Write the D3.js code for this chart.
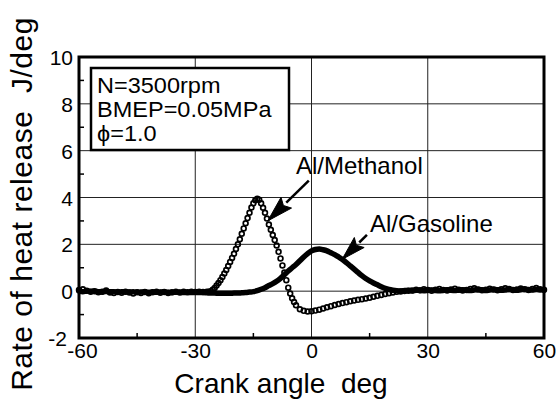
<!DOCTYPE html>
<html>
<head>
<meta charset="utf-8">
<script src="https://cdn.jsdelivr.net/npm/d3@7/dist/d3.min.js"></script>
<style>
  html, body { margin: 0; padding: 0; background: #fff; }
  svg { display: block; }
  text { font-family: "Liberation Sans", Arial, Helvetica, sans-serif; fill: #000; }
</style>
</head>
<body>
<svg id="chart" width="557" height="405"></svg>
<script>
// ---------------- data ----------------
const xTicks = [-60, -30, 0, 30, 60];
const xTickLabels = ["-60", "-30", "0", "30", "60"];
const xMinorTicks = [-45, -15, 15, 45];
const yTicks = [-2, 0, 2, 4, 6, 8, 10];
const yTickLabels = ["-2", "0", "2", "4", "6", "8", "10"];
const yMinorTicks = [-1, 1, 3, 5, 7, 9];
const xGrid = [-30, 0, 30];
const yGrid = [0, 2, 4, 6, 8];

const legendLines = ["N=3500rpm", "BMEP=0.05MPa", "\u03D5=1.0"];
const seriesNames = ["Al/Methanol", "Al/Gasoline"];

// Al/Methanol (open circles)
const angleMethanol = [].concat(
  d3.range(-60, -26.5, 1),
  d3.range(-26.5, -4.25, 0.5),
  d3.range(-4, 60.5, 1)
);
const hrrMethanol = [
  // -60 .. -27
  0.05,0.08,0.02,-0.03,0.0,-0.05,-0.02,0.03,-0.06,-0.08,
  -0.04,-0.07,-0.03,-0.06,-0.1,-0.05,-0.08,-0.04,-0.09,-0.05,
  -0.03,-0.07,-0.04,-0.08,-0.05,-0.03,-0.06,-0.02,-0.05,-0.03,
  -0.04,-0.02,-0.04,-0.02,
  // -26.5 .. -4.5 (0.5 deg)
  -0.02,0.0,0.06,0.14,0.24,0.35,0.47,0.6,0.75,0.9,
  1.07,1.25,1.42,1.6,1.8,2.0,2.22,2.45,2.68,2.9,
  3.12,3.35,3.57,3.75,3.88,3.95,3.9,3.75,3.56,3.35,
  3.1,2.85,2.62,2.4,2.18,1.95,1.68,1.4,1.1,0.8,
  0.47,0.15,-0.1,-0.3,-0.46,
  // -4 .. 60
  -0.6,-0.77,-0.84,-0.87,-0.86,-0.83,-0.79,-0.74,-0.69,-0.64,
  -0.59,-0.55,-0.51,-0.47,-0.43,-0.4,-0.37,-0.34,-0.31,-0.28,
  -0.24,-0.2,-0.16,-0.12,-0.09,-0.06,-0.03,-0.01,0.01,0.02,
  0.03,0.06,0.04,0.08,0.05,0.02,0.06,0.09,0.05,0.03,
  0.07,0.1,0.06,0.03,0.05,0.09,0.12,0.07,0.04,0.06,
  0.1,0.07,0.04,0.08,0.12,0.09,0.05,0.07,0.11,0.08,
  0.05,0.09,0.13,0.08,0.06
];

// Al/Gasoline (thick line)
const angleGasoline = d3.range(-60, 60.5, 1);
const hrrGasoline = [
  // -60 .. -28
  0.0,-0.02,0.01,-0.01,0,-0.02,-0.03,-0.01,-0.03,-0.02,
  -0.04,-0.03,-0.02,-0.04,-0.03,-0.05,-0.04,-0.03,-0.05,-0.04,
  -0.05,-0.04,-0.03,-0.05,-0.06,-0.04,-0.05,-0.06,-0.05,-0.06,
  -0.05,-0.06,-0.06,
  // -27 .. -15
  -0.07,-0.08,-0.08,-0.09,-0.09,-0.09,-0.09,-0.08,-0.08,-0.07,
  -0.06,-0.04,-0.02,
  // -14 .. 23
  0.02,0.08,0.15,0.24,0.32,0.42,0.55,0.7,0.86,1.0,
  1.14,1.3,1.46,1.6,1.72,1.78,1.8,1.77,1.72,1.64,
  1.56,1.46,1.35,1.22,1.08,0.94,0.8,0.66,0.54,0.44,
  0.35,0.27,0.19,0.12,0.07,0.04,0.02,0.01,
  // 24 .. 60
  0.02,0.03,0.02,0.04,0.03,0.02,0.04,0.05,0.03,0.02,
  0.04,0.06,0.04,0.03,0.05,0.06,0.04,0.03,0.05,0.07,
  0.05,0.03,0.05,0.07,0.06,0.04,0.05,0.07,0.06,0.04,
  0.06,0.08,0.06,0.05,0.07,0.06,0.05
];

// annotation anchors (data coordinates): [tail, tip]
const arrowMethanol = [[-0.7, 4.72], [-11.3, 3.0]];
const arrowGasoline = [[14.3, 2.4], [7.9, 1.36]];

// ---------------- drawing ----------------
const svg = d3.select("#chart");
const L = 79, R = 544, T = 57, B = 338;
const x = d3.scaleLinear().domain([-60, 60]).range([L, R]);
const y = d3.scaleLinear().domain([-2, 10]).range([B, T]);
const FONT = "'Liberation Sans', Arial, sans-serif";

// grid
const grid = svg.append("g").attr("stroke", "#222").attr("stroke-width", 1);
grid.selectAll("line.gx").data(xGrid).join("line")
  .attr("x1", d => x(d)).attr("x2", d => x(d)).attr("y1", T).attr("y2", B);
grid.selectAll("line.gy").data(yGrid).join("line")
  .attr("y1", d => y(d)).attr("y2", d => y(d)).attr("x1", L).attr("x2", R);

// minor ticks (inward)
const ticks = svg.append("g").attr("stroke", "#000").attr("stroke-width", 1.5);
ticks.selectAll("line.mx").data(xMinorTicks).join("line")
  .attr("x1", d => x(d)).attr("x2", d => x(d)).attr("y1", B).attr("y2", B - 5);
ticks.selectAll("line.my").data(yMinorTicks).join("line")
  .attr("y1", d => y(d)).attr("y2", d => y(d)).attr("x1", L).attr("x2", L + 5);

// x axis labels
const xAxis = d3.axisBottom(x).tickValues(xTicks).tickFormat((d, i) => xTickLabels[i]).tickSize(0).tickPadding(0);
const gx = svg.append("g").attr("transform", `translate(0,${B})`).call(xAxis);
gx.select(".domain").remove();
gx.selectAll("text").attr("font-size", 21).attr("dy", null).attr("y", 20)
  .attr("dx", d => d === -60 ? 3 : 0)
  .style("font-family", FONT);

// y axis labels
const yAxis = d3.axisLeft(y).tickValues(yTicks).tickFormat((d, i) => yTickLabels[i]).tickSize(0).tickPadding(6);
const gy = svg.append("g").attr("transform", `translate(${L},0)`).call(yAxis);
gy.select(".domain").remove();
gy.selectAll("text").attr("font-size", 21).attr("dy", "0.36em")
  .attr("dx", d => d === -2 ? -6 : 0)
  .style("font-family", FONT);

// gasoline line
const gasData = angleGasoline.map((a, i) => [a, hrrGasoline[i]]);
svg.append("path").datum(gasData)
  .attr("fill", "none").attr("stroke", "#000").attr("stroke-width", 5.5)
  .attr("stroke-linejoin", "round").attr("stroke-linecap", "round")
  .attr("d", d3.line().x(d => x(d[0])).y(d => y(d[1])).curve(d3.curveMonotoneX));

// methanol circles
const metData = angleMethanol.map((a, i) => [a, hrrMethanol[i]]);
svg.append("g").selectAll("circle").data(metData).join("circle")
  .attr("cx", d => x(d[0])).attr("cy", d => y(d[1])).attr("r", 2.4)
  .attr("fill", "none").attr("stroke", "#000").attr("stroke-width", 1.7);

// frame
svg.append("rect").attr("x", L).attr("y", T).attr("width", R - L).attr("height", B - T)
  .attr("fill", "none").attr("stroke", "#000").attr("stroke-width", 3);

// legend box
svg.append("rect").attr("x", 91).attr("y", 68).attr("width", 198).attr("height", 82)
  .attr("fill", "#fff").attr("stroke", "#000").attr("stroke-width", 2.5);
svg.append("g").selectAll("text").data(legendLines).join("text")
  .attr("transform", (d, i) => `translate(97,${93 + i * 24.2}) scale(1.12,1.04)`)
  .attr("font-size", 21).text(d => d);

// arrows
function arrow(pts, headLen, headHalf) {
  const [t0, t1] = pts;
  const x0 = x(t0[0]), y0 = y(t0[1]), x1 = x(t1[0]), y1 = y(t1[1]);
  const dx = x1 - x0, dy = y1 - y0, len = Math.hypot(dx, dy);
  const ux = dx / len, uy = dy / len;
  const bx = x1 - ux * headLen, by = y1 - uy * headLen;
  svg.append("line").attr("x1", x0).attr("y1", y0).attr("x2", bx).attr("y2", by)
    .attr("stroke", "#000").attr("stroke-width", 2.5);
  svg.append("path")
    .attr("d", `M${x1},${y1}L${bx - uy * headHalf},${by + ux * headHalf}L${bx + ux * 4},${by + uy * 4}L${bx + uy * headHalf},${by - ux * headHalf}Z`)
    .attr("fill", "#000").attr("stroke", "#000").attr("stroke-width", 1);
}
arrow(arrowMethanol, 26, 7.5);
arrow(arrowGasoline, 24, 7);

svg.append("text").attr("x", 296).attr("y", 174).attr("font-size", 24).text(seriesNames[0]);
svg.append("text").attr("x", 370).attr("y", 232).attr("font-size", 24).text(seriesNames[1]);

// axis titles
svg.append("text").attr("x", 281).attr("y", 393).attr("text-anchor", "middle")
  .attr("font-size", 28).style("white-space", "pre").text("Crank angle  deg");
svg.append("text").attr("transform", "translate(32,204) rotate(-90)")
  .attr("text-anchor", "middle").attr("font-size", 30).attr("letter-spacing", 0.5)
  .style("white-space", "pre").text("Rate of heat release  J/deg");
</script>
</body>
</html>
